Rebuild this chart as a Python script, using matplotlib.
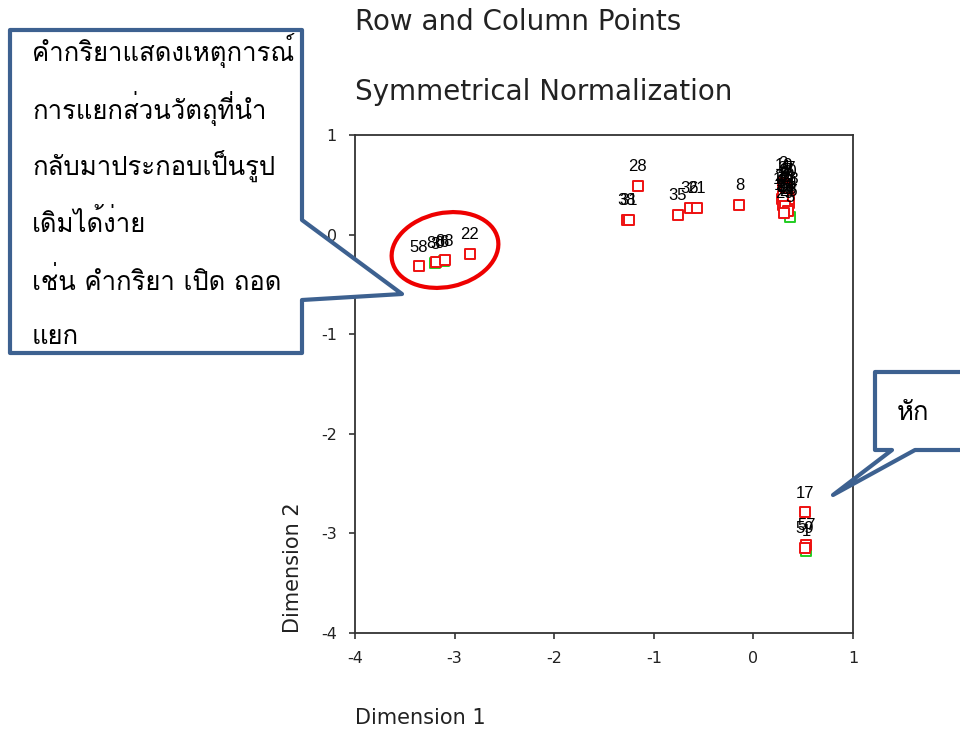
import matplotlib
matplotlib.use("Agg")
import matplotlib.pyplot as plt
from matplotlib import font_manager
from matplotlib.ft2font import FT2Font
from matplotlib.patches import Polygon, Ellipse

plt.rcParams["axes.unicode_minus"] = False

# row points (red squares)
row_labels = ["58", "80", "88", "22",
              "28", "38", "31", "35", "36", "21", "8",
              "2", "4", "7", "9", "10", "11", "12", "13", "14", "15",
              "16", "18", "19", "20", "23", "24", "25", "26", "27", "29",
              "17", "57", "59"]
row_x = [-3.36, -3.19, -3.10, -2.85,
         -1.16, -1.27, -1.25, -0.76, -0.64, -0.57, -0.14,
         0.30, 0.32, 0.34, 0.31, 0.33, 0.35, 0.29, 0.32, 0.36, 0.30,
         0.33, 0.35, 0.31, 0.34, 0.36, 0.32, 0.30, 0.35, 0.33, 0.31,
         0.52, 0.53, 0.52]
row_y = [-0.32, -0.28, -0.26, -0.19,
         0.49, 0.15, 0.15, 0.20, 0.27, 0.27, 0.30,
         0.52, 0.48, 0.45, 0.42, 0.40, 0.38, 0.36, 0.34, 0.32, 0.30,
         0.28, 0.26, 0.50, 0.44, 0.36, 0.29, 0.39, 0.24, 0.47, 0.22,
         -2.79, -3.12, -3.15]

# column points (green squares)
col_labels = ["3", "6", "5", "1"]
col_x = [-3.20, -3.11, 0.37, 0.53]
col_y = [-0.29, -0.27, 0.18, -3.18]

title1 = "Row and Column Points"
title2 = "Symmetrical Normalization"
note_left = ["คำกริยาแสดงเหตุการณ์", "การแยกส่วนวัตถุที่นำ", "กลับมาประกอบเป็นรูป",
             "เดิมได้ง่าย", "เช่น คำกริยา เปิด ถอด", "แยก"]
note_right = "หัก"

# find a font that has Thai glyphs
thai_font = None
for f in font_manager.fontManager.ttflist:
    try:
        if FT2Font(f.fname).get_char_index(ord("ก")):
            thai_font = f.name
            break
    except Exception:
        pass
thai_family = [thai_font, "DejaVu Sans"] if thai_font else ["DejaVu Sans"]

W, H = 960, 735
fig = plt.figure(figsize=(W / 100, H / 100), dpi=100)
fig.patch.set_facecolor("white")


def px(x, y):
    # pixel position (from top-left) -> inches for dpi_scale_trans
    return (x / 100, (H - y) / 100)


left, right, top, bottom = 355, 853, 135, 633
ax = fig.add_axes([left / W, (H - bottom) / H, (right - left) / W, (bottom - top) / H])
ax.set_xlim(-4, 1)
ax.set_ylim(-4, 1)
ax.set_xticks([-4, -3, -2, -1, 0, 1])
ax.set_yticks([-4, -3, -2, -1, 0, 1])
for s in ax.spines.values():
    s.set_color("#333333")
    s.set_linewidth(1.3)
ax.tick_params(direction="out", length=4, width=1.2, color="#333333",
               labelsize=11.5, labelcolor="#222222")
ax.tick_params(axis="x", pad=9)
ax.tick_params(axis="y", pad=9)

ax.scatter(col_x, col_y, marker="s", s=42, facecolors="white",
           edgecolors="#22cc22", linewidths=1.4, zorder=3)
ax.scatter(row_x, row_y, marker="s", s=42, facecolors="white",
           edgecolors="#ee1111", linewidths=1.4, zorder=4)
for lab, x, y in zip(col_labels + row_labels, col_x + row_x, col_y + row_y):
    ax.annotate(lab, (x, y), xytext=(0, 14), textcoords="offset points",
                ha="center", va="center", fontsize=12, family="Liberation Sans",
                color="black", zorder=5)

fig.text(left / W, 1 - 22 / H, title1, fontsize=20, color="#222222", va="center", ha="left")
fig.text(left / W, 1 - 92 / H, title2, fontsize=20, color="#222222", va="center", ha="left")
fig.text(left / W, 1 - 718 / H, "Dimension 1", fontsize=15, color="#222222", va="center", ha="left")
fig.text(293 / W, (H - bottom) / H, "Dimension 2", fontsize=15, color="#222222",
         rotation=90, va="bottom", ha="center")

blue = "#3d6190"
tr = fig.dpi_scale_trans

# left callout
left_pts = [(10, 30), (302, 30), (302, 220), (402, 294), (302, 300), (302, 353), (10, 353)]
fig.add_artist(Polygon([px(*p) for p in left_pts], closed=True, transform=tr,
                       facecolor="white", edgecolor=blue, linewidth=3, joinstyle="round",
                       zorder=10))
line_y = [50, 108, 166, 223, 281, 337]
for txt, yy in zip(note_left, line_y):
    fig.text(32 / W, 1 - yy / H, txt, fontsize=18.5, family=thai_family,
             color="black", va="center", ha="left", zorder=11)

# right callout
right_pts = [(875, 372), (980, 372), (980, 450), (915, 450), (833, 495), (892, 450), (875, 450)]
fig.add_artist(Polygon([px(*p) for p in right_pts], closed=True, transform=tr,
                       facecolor="white", edgecolor=blue, linewidth=3, joinstyle="round",
                       zorder=10))
fig.text(897 / W, 1 - 413 / H, note_right, fontsize=18.5, family=thai_family,
         color="black", va="center", ha="left", zorder=11)

# red ellipse around the left group
fig.add_artist(Ellipse(px(445, 250), 1.08, 0.74, angle=12, transform=tr,
                       facecolor="none", edgecolor="#ee0000", linewidth=3, zorder=9))

fig.savefig("out.png", dpi=100)
